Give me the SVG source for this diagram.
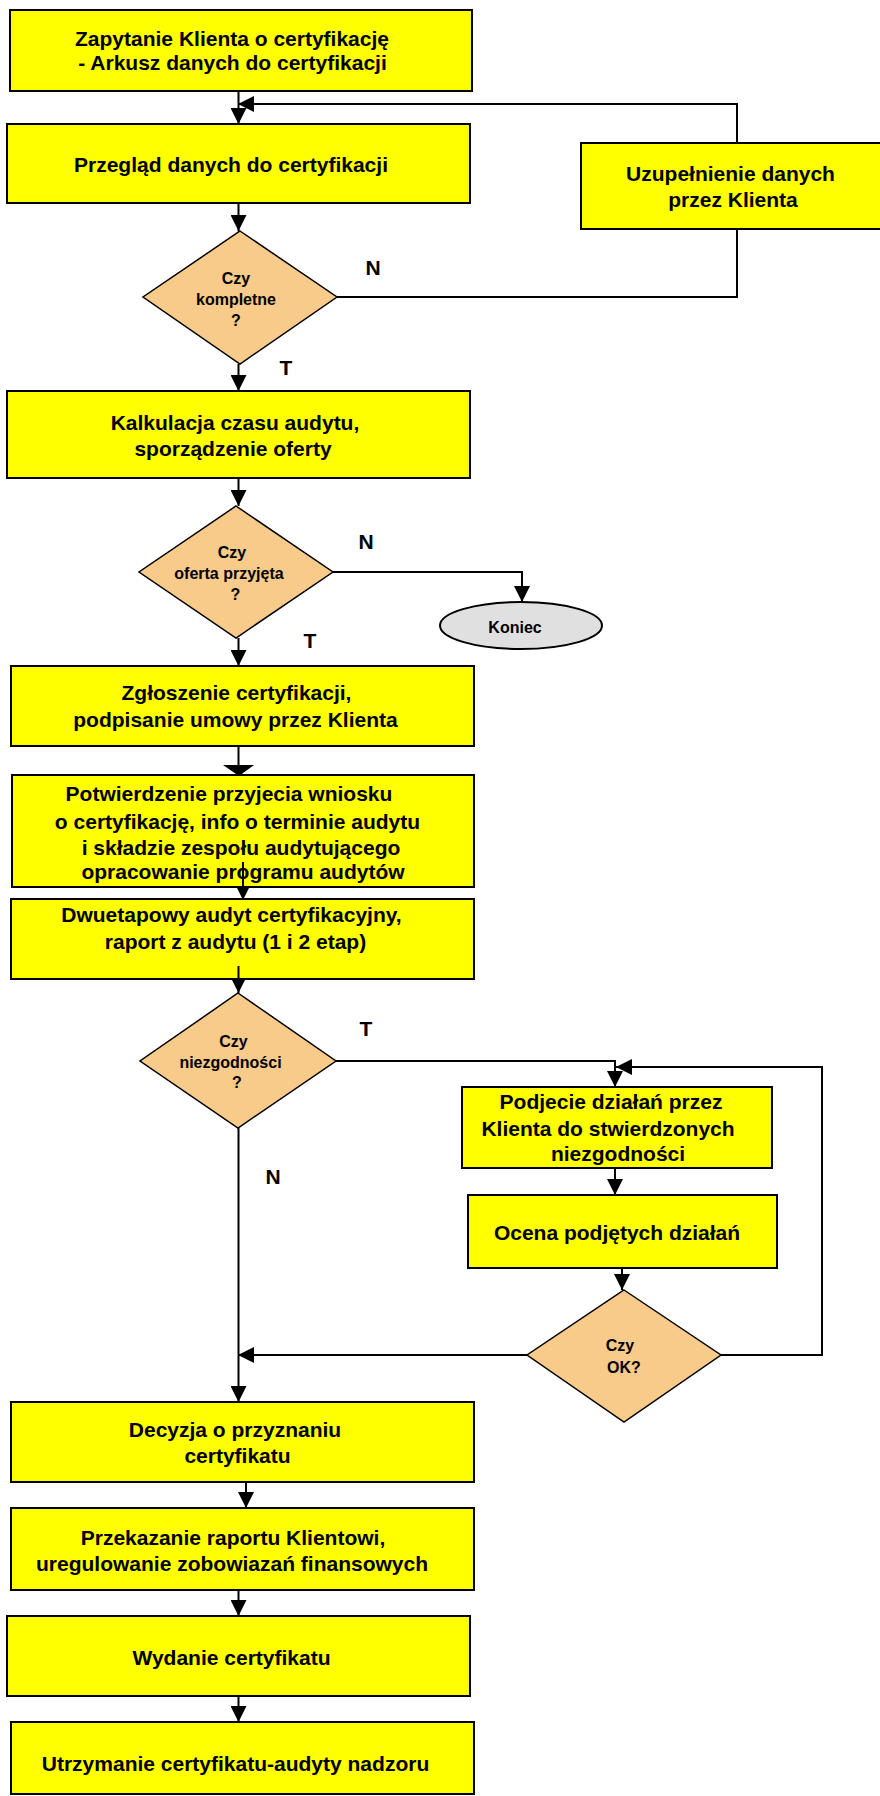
<svg xmlns="http://www.w3.org/2000/svg" width="880" height="1796" viewBox="0 0 880 1796">
<style>
.box{fill:#FFFF00;stroke:#000;stroke-width:2}
.dia{fill:#F8CB8A;stroke:#000;stroke-width:1.5}
.end{fill:#E0E0E0;stroke:#000;stroke-width:2}
.t{font-family:"Liberation Sans",Arial,sans-serif;font-weight:bold;font-size:21px;fill:#000;text-anchor:middle}
.s{font-family:"Liberation Sans",Arial,sans-serif;font-weight:bold;font-size:16px;fill:#000;text-anchor:middle}
.c{fill:none;stroke:#000;stroke-width:2}
</style>
<defs>
<marker id="ah" viewBox="0 0 16 16" refX="16" refY="8" markerWidth="16" markerHeight="16" markerUnits="userSpaceOnUse" orient="auto">
<path d="M0,0 L16,8 L0,16 z" fill="#000"/>
</marker>
</defs>
<rect width="880" height="1796" fill="#fff"/>

<g id="connectors">
<line class="c" x1="238.5" y1="91" x2="238.5" y2="124" marker-end="url(#ah)"/>
<polyline class="c" points="737,143 737,104 238,104" marker-end="url(#ah)"/>
<line class="c" x1="238.5" y1="203" x2="238.5" y2="231" marker-end="url(#ah)"/>
<polyline class="c" points="337,297 737,297 737,229"/>
<line class="c" x1="238.5" y1="364" x2="238.5" y2="391" marker-end="url(#ah)"/>
<line class="c" x1="238.5" y1="478" x2="238.5" y2="506" marker-end="url(#ah)"/>
<polyline class="c" points="333,572 522,572 522,602" marker-end="url(#ah)"/>
<line class="c" x1="238.5" y1="638" x2="238.5" y2="666" marker-end="url(#ah)"/>
<line class="c" x1="238.5" y1="746" x2="238.5" y2="766"/>
<polygon points="223,765 254,765 239,776" fill="#000"/>
<line class="c" x1="243" y1="862" x2="243" y2="900" marker-end="url(#ah)"/>
<line class="c" x1="238.5" y1="966" x2="238.5" y2="993" marker-end="url(#ah)"/>
<polyline class="c" points="336,1061 615,1061 615,1087" marker-end="url(#ah)"/>
<polyline class="c" points="721,1355 822,1355 822,1067 616,1067" marker-end="url(#ah)"/>
<line class="c" x1="238.5" y1="1128" x2="238.5" y2="1402" marker-end="url(#ah)"/>
<line class="c" x1="527" y1="1355" x2="238" y2="1355" marker-end="url(#ah)"/>
<line class="c" x1="615" y1="1168" x2="615" y2="1195" marker-end="url(#ah)"/>
<line class="c" x1="622" y1="1268" x2="622" y2="1290" marker-end="url(#ah)"/>
<line class="c" x1="246" y1="1482" x2="246" y2="1508" marker-end="url(#ah)"/>
<line class="c" x1="238.5" y1="1590" x2="238.5" y2="1616" marker-end="url(#ah)"/>
<line class="c" x1="238.5" y1="1696" x2="238.5" y2="1722" marker-end="url(#ah)"/>
</g>

<g id="n1"><rect class="box" x="10" y="10" width="462" height="81"/>
<text class="t" x="232" y="46">Zapytanie Klienta o certyfikację</text>
<text class="t" x="232.5" y="70">- Arkusz danych do certyfikacji</text></g>

<g id="n2"><rect class="box" x="7" y="124" width="463" height="79"/>
<text class="t" x="231" y="172">Przegląd danych do certyfikacji</text></g>

<g id="n_uzup"><rect class="box" x="581" y="143" width="302" height="86"/>
<text class="t" x="730.5" y="181">Uzupełnienie danych</text>
<text class="t" x="733" y="207">przez Klienta</text></g>

<g id="d1"><polygon class="dia" points="240,231 337,297 240,364 143,297"/>
<text class="s" x="236" y="283.5">Czy</text>
<text class="s" x="236" y="304.5">kompletne</text>
<text class="s" x="236" y="325.5">?</text></g>

<g id="labels">
<text class="t" x="373" y="274.5">N</text>
<text class="t" x="286" y="374.5">T</text>
<text class="t" x="366" y="548.5">N</text>
<text class="t" x="310" y="647.5">T</text>
<text class="t" x="366" y="1035.5">T</text>
<text class="t" x="273" y="1183.5">N</text>
</g>

<g id="n3"><rect class="box" x="7" y="391" width="463" height="87"/>
<text class="t" x="235" y="430">Kalkulacja czasu audytu,</text>
<text class="t" x="233" y="456">sporządzenie oferty</text></g>

<g id="d2"><polygon class="dia" points="236,506 333,572 236,638 139,572"/>
<text class="s" x="232" y="557.5">Czy</text>
<text class="s" x="229" y="578.5">oferta przyjęta</text>
<text class="s" x="235.5" y="599.5">?</text></g>

<g id="n_koniec"><ellipse class="end" cx="521" cy="625.5" rx="81" ry="23.5"/>
<text class="s" x="515" y="632.5">Koniec</text></g>

<g id="n4"><rect class="box" x="11" y="666" width="463" height="80"/>
<text class="t" x="236.5" y="700">Zgłoszenie certyfikacji,</text>
<text class="t" x="235.5" y="727">podpisanie umowy przez Klienta</text></g>

<g id="n5"><rect class="box" x="12" y="775" width="462" height="112"/>
<text class="t" x="229" y="801">Potwierdzenie przyjecia wniosku</text>
<text class="t" x="237.5" y="829">o certyfikację, info o terminie audytu</text>
<text class="t" x="241" y="855">i składzie zespołu audytującego</text>
<text class="t" x="243" y="879">opracowanie programu audytów</text></g>

<line x1="243" y1="862" x2="243" y2="888" stroke="#000" stroke-width="2"/>

<g id="n6"><rect class="box" x="11" y="899" width="463" height="80"/>
<text class="t" x="231.5" y="922">Dwuetapowy audyt certyfikacyjny,</text>
<text class="t" x="235.5" y="949">raport z audytu (1 i 2 etap)</text></g>

<line x1="238.5" y1="966" x2="238.5" y2="980" stroke="#000" stroke-width="2"/>

<g id="d3"><polygon class="dia" points="238,993 336,1061 238,1128 140,1061"/>
<text class="s" x="233.5" y="1046.5">Czy</text>
<text class="s" x="230.5" y="1067.5">niezgodności</text>
<text class="s" x="237" y="1087.5">?</text></g>

<g id="n7"><rect class="box" x="462" y="1087" width="310" height="81"/>
<text class="t" x="611" y="1109">Podjecie działań przez</text>
<text class="t" x="608" y="1136">Klienta do stwierdzonych</text>
<text class="t" x="618" y="1161">niezgodności</text></g>

<g id="n8"><rect class="box" x="468" y="1195" width="309" height="73"/>
<text class="t" x="617" y="1240">Ocena podjętych działań</text></g>

<g id="d4"><polygon class="dia" points="624,1290 721,1355 624,1422 527,1355"/>
<text class="s" x="620" y="1350.5">Czy</text>
<text class="s" x="624" y="1372.5">OK?</text></g>

<g id="n9"><rect class="box" x="11" y="1402" width="463" height="80"/>
<text class="t" x="235" y="1437">Decyzja o przyznaniu</text>
<text class="t" x="237.5" y="1463">certyfikatu</text></g>

<g id="n10"><rect class="box" x="11" y="1508" width="463" height="82"/>
<text class="t" x="233" y="1545">Przekazanie raportu Klientowi,</text>
<text class="t" x="232" y="1571">uregulowanie zobowiazań finansowych</text></g>

<g id="n11"><rect class="box" x="7" y="1616" width="463" height="80"/>
<text class="t" x="231.5" y="1665">Wydanie certyfikatu</text></g>

<g id="n12"><rect class="box" x="11" y="1722" width="463" height="72"/>
<text class="t" x="235.5" y="1771">Utrzymanie certyfikatu-audyty nadzoru</text></g>
</svg>
